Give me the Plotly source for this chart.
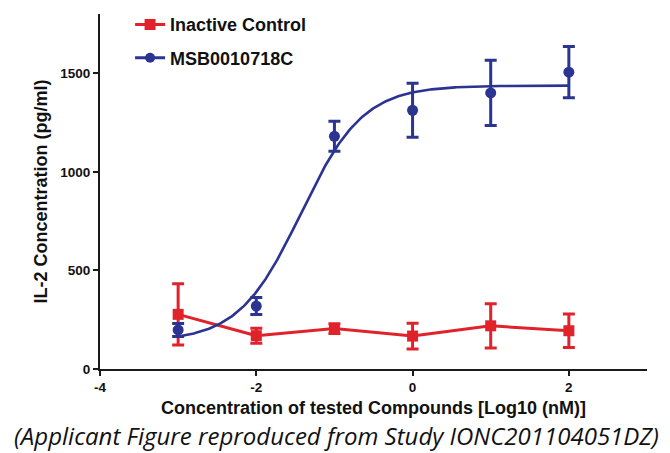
import numpy as np
import plotly.graph_objects as go

# log10 concentration (nM)
log_conc = [-3, -2, -1, 0, 1, 2]

# Inactive control: IL-2 mean and error (pg/ml)
ctrl_mean = [277, 169, 205, 167, 219, 194]
ctrl_err = [155, 38, 25, 65, 112, 85]

# MSB0010718C: IL-2 mean and error (pg/ml)
msb_mean = [198, 319, 1180, 1312, 1400, 1505]
msb_err = [33, 43, 76, 137, 165, 130]

# four-parameter logistic fit for MSB0010718C
fit_bottom = 140
fit_top = 1437
fit_log_ec50 = -1.43
fit_hill = 1.09

RED = "#E0232B"
BLUE = "#2B3491"
AXIS = "#1a1a1a"
FONT = "Liberation Sans"

fit_x = np.linspace(min(log_conc), max(log_conc), 300)
fit_y = fit_bottom + (fit_top - fit_bottom) / (1 + 10 ** ((fit_log_ec50 - fit_x) * fit_hill))

fig = go.Figure()

fig.add_trace(go.Scatter(
    x=log_conc, y=ctrl_mean, mode="lines+markers", name="Inactive Control",
    legendgroup="ctrl",
    line=dict(color=RED, width=3),
    marker=dict(symbol="square", size=11, color=RED),
    error_y=dict(type="data", array=ctrl_err, color=RED, thickness=3, width=6),
))

fig.add_trace(go.Scatter(
    x=fit_x, y=fit_y, mode="lines", showlegend=False, legendgroup="msb",
    line=dict(color=BLUE, width=2.6), hoverinfo="skip",
))

fig.add_trace(go.Scatter(
    x=log_conc, y=msb_mean, mode="markers", showlegend=False, legendgroup="msb",
    marker=dict(symbol="circle", size=11, color=BLUE),
    error_y=dict(type="data", array=msb_err, color=BLUE, thickness=3, width=6),
))

# legend entry: fitted line with circle marker
fig.add_trace(go.Scatter(
    x=[None], y=[None], mode="lines+markers", name="MSB0010718C",
    legendgroup="msb",
    line=dict(color=BLUE, width=3),
    marker=dict(symbol="circle", size=10, color=BLUE),
))

fig.update_layout(
    width=670, height=453,
    margin=dict(l=100, r=23, t=14, b=84, autoexpand=False),
    paper_bgcolor="white", plot_bgcolor="white",
    font=dict(family=FONT, color="#111"),
    legend=dict(
        x=0.055, y=1.022, xanchor="left", yanchor="top",
        font=dict(family=FONT, size=18, color="#111", weight="bold"),
        itemwidth=30, tracegroupgap=7, bgcolor="rgba(0,0,0,0)",
    ),
    xaxis=dict(
        range=[-4, 3], tickvals=[-4, -2, 0, 2], ticktext=["-4", "-2", "0", "2"],
        showgrid=False, zeroline=False,
        showline=True, linecolor=AXIS, linewidth=2,
        ticks="outside", ticklen=5, tickwidth=2, tickcolor=AXIS,
        tickfont=dict(family=FONT, size=13.5, color="#111", weight="bold"),
        title=dict(text="Concentration of tested Compounds [Log10 (nM)]",
                   font=dict(family=FONT, size=18, color="#111", weight="bold"),
                   standoff=7),
    ),
    yaxis=dict(
        range=[0, 1800], tickvals=[0, 500, 1000, 1500],
        showgrid=False, zeroline=False,
        showline=True, linecolor=AXIS, linewidth=2,
        ticks="outside", ticklen=5, tickwidth=2, tickcolor=AXIS,
        tickfont=dict(family=FONT, size=13.5, color="#111", weight="bold"),
        title=dict(text="IL-2 Concentration (pg/ml)",
                   font=dict(family=FONT, size=18, color="#111", weight="bold"),
                   standoff=8),
    ),
    annotations=[dict(
        text="<i>(Applicant Figure reproduced from Study IONC201104051DZ)</i>",
        xref="paper", yref="paper", x=0.433, y=-0.186, xanchor="center", yanchor="middle",
        showarrow=False,
        font=dict(family="Open Sans", size=24, color="#111"),
    )],
)

fig.write_html("out.html")
